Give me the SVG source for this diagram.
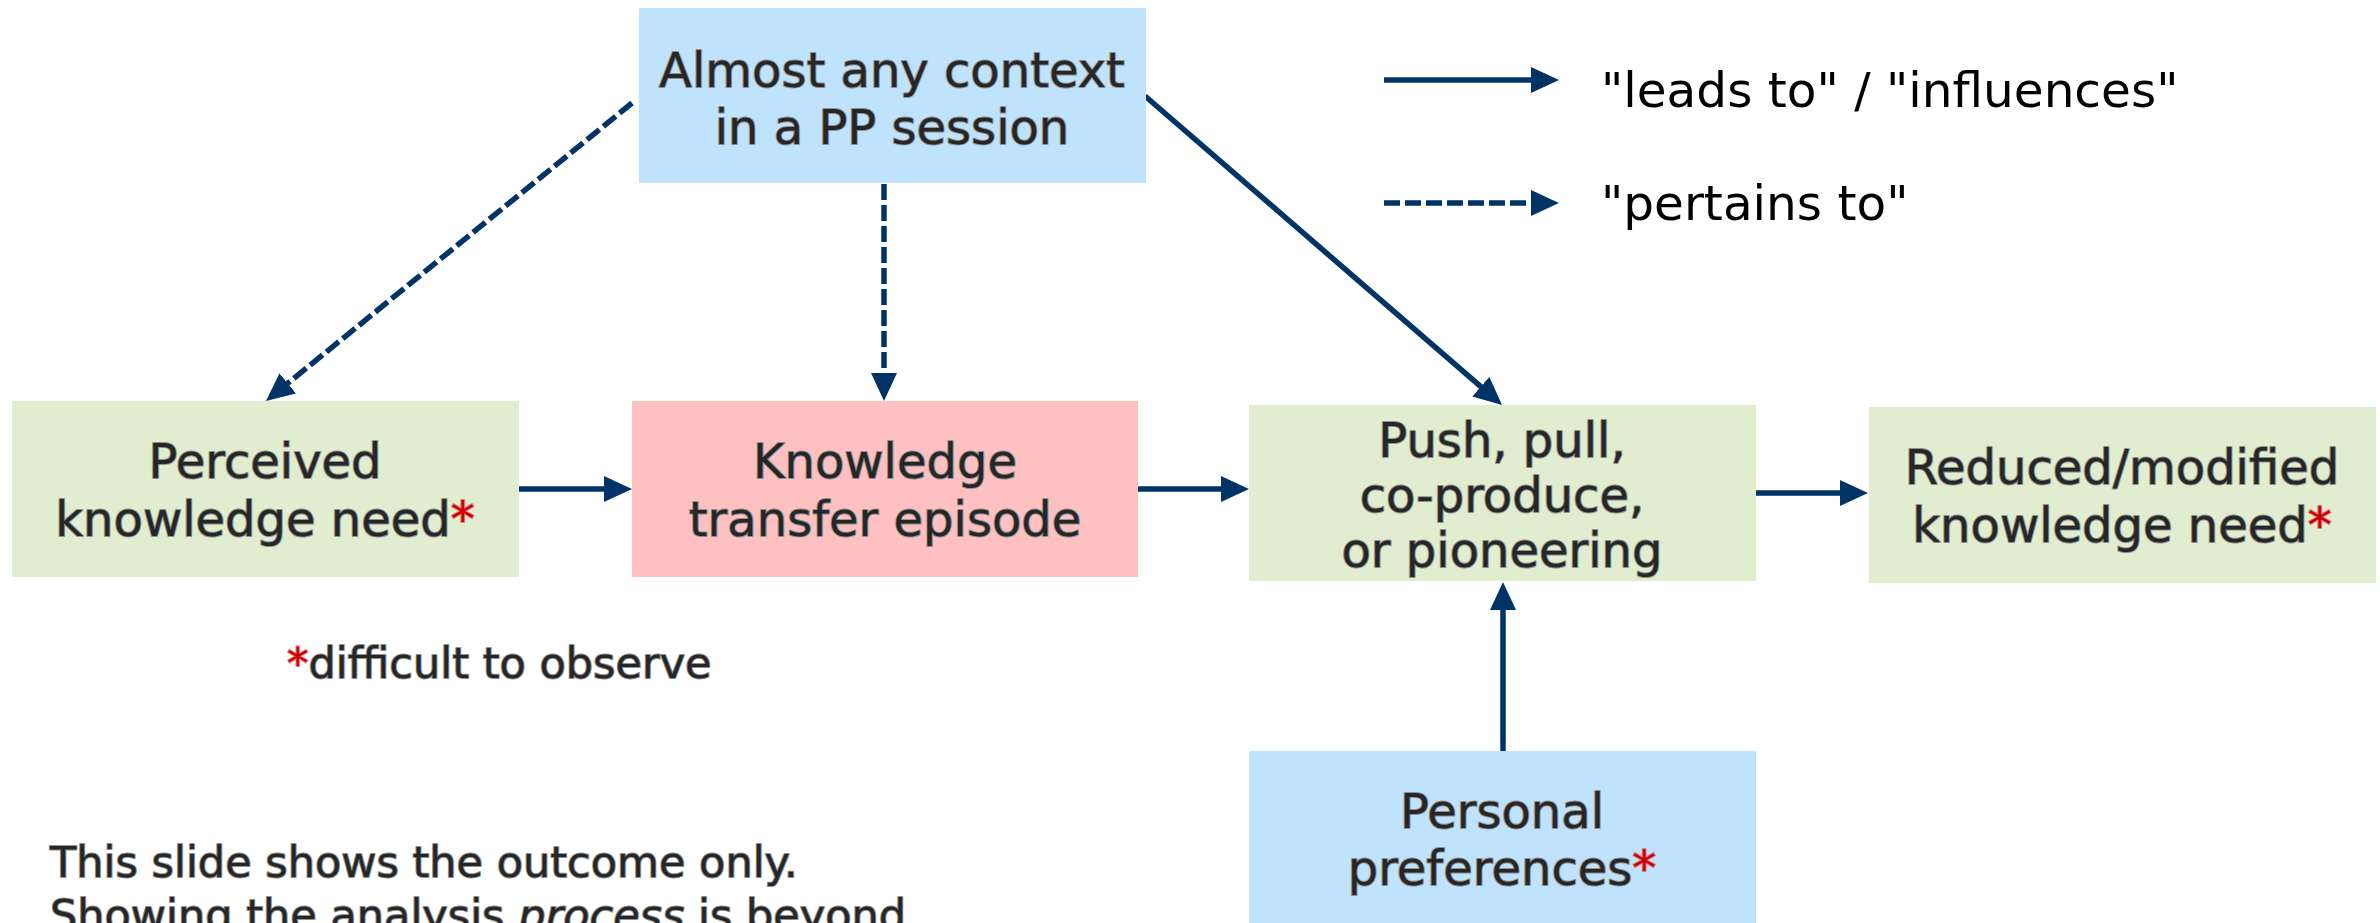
<svg xmlns="http://www.w3.org/2000/svg" width="2380" height="923" viewBox="0 0 2380 923">
<style>
.t{font-family:"DejaVu Sans",Verdana,sans-serif;font-size:48px;fill:#262626;stroke:#909090;stroke-width:2;paint-order:stroke fill;stroke-linejoin:round;text-anchor:middle}
.s{font-size:43px;text-anchor:start}
.r{fill:#cc0000;stroke:#e08080}
.lg{font-family:"DejaVu Sans",Verdana,sans-serif;font-size:48.5px;fill:#000}
.blue{fill:#bfe3fd}
.green{fill:#e0edce}
.pink{fill:#fec0c0}
.c{stroke:#003366;stroke-width:5.5;fill:none}
.d{stroke-dasharray:16 5}
</style>
<defs>
<marker id="ah" markerUnits="userSpaceOnUse" markerWidth="28" markerHeight="26" refX="8" refY="13" orient="auto">
<path d="M0,0 L28,13 L0,26 z" fill="#003366"/>
</marker>
</defs>
<rect width="2380" height="923" fill="#ffffff"/>

<g id="connectors">
<line class="c" x1="519" y1="489" x2="612" y2="489" marker-end="url(#ah)"/>
<line class="c" x1="1138" y1="489" x2="1229" y2="489" marker-end="url(#ah)"/>
<line class="c" x1="1756" y1="493" x2="1848" y2="493" marker-end="url(#ah)"/>
<line class="c" x1="1503" y1="751" x2="1503" y2="602" marker-end="url(#ah)"/>
<line class="c" x1="1145" y1="96" x2="1486.9" y2="391.9" marker-end="url(#ah)"/>
<line class="c d" x1="884" y1="184" x2="884" y2="381" marker-end="url(#ah)"/>
<line class="c d" x1="632" y1="103" x2="281.5" y2="388.4" marker-end="url(#ah)"/>
</g>

<g id="legend">
<line class="c" x1="1384" y1="80" x2="1539" y2="80" marker-end="url(#ah)"/>
<line class="c d" x1="1384" y1="203" x2="1539" y2="203" marker-end="url(#ah)"/>
<text class="lg" x="1601" y="107">"leads to" / "influences"</text>
<text class="lg" x="1601" y="220">"pertains to"</text>
</g>

<g id="almost">
<rect class="blue" x="639" y="8" width="507" height="175"/>
<text class="t" x="892" y="87">Almost any context</text>
<text class="t" x="892" y="144">in a PP session</text>
</g>

<g id="perceived">
<rect class="green" x="12" y="401" width="507" height="176"/>
<text class="t" x="265" y="478">Perceived</text>
<text class="t" x="265" y="536">knowledge need<tspan class="r">*</tspan></text>
</g>

<g id="knowledge">
<rect class="pink" x="632" y="401" width="506" height="176"/>
<text class="t" x="885" y="478">Knowledge</text>
<text class="t" x="885" y="536">transfer episode</text>
</g>

<g id="push">
<rect class="green" x="1249" y="405" width="507" height="176"/>
<text class="t" x="1502" y="457">Push, pull,</text>
<text class="t" x="1502" y="512">co-produce,</text>
<text class="t" x="1502" y="567">or pioneering</text>
</g>

<g id="reduced">
<rect class="green" x="1869" y="407" width="507" height="176"/>
<text class="t" x="2122" y="484">Reduced/modified</text>
<text class="t" x="2122" y="542">knowledge need<tspan class="r">*</tspan></text>
</g>

<g id="personal">
<rect class="blue" x="1249" y="751" width="507" height="180"/>
<text class="t" x="1502" y="828">Personal</text>
<text class="t" x="1502" y="885">preferences<tspan class="r">*</tspan></text>
</g>

<g id="notes">
<text class="t s" x="287" y="678"><tspan class="r">*</tspan>difficult to observe</text>
<text class="t s" x="50" y="877">This slide shows the outcome only.</text>
<text class="t s" x="50" y="930">Showing the analysis <tspan font-style="italic">process</tspan> is beyond</text>
</g>
</svg>
